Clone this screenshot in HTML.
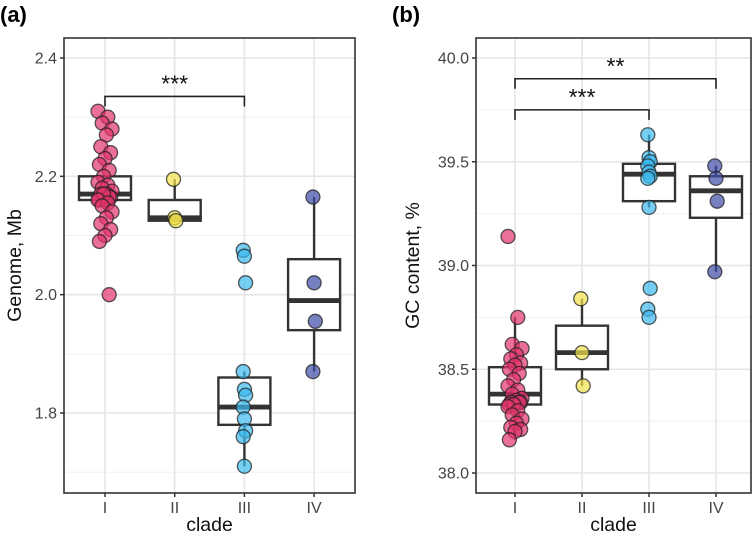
<!DOCTYPE html>
<html><head><meta charset="utf-8"><style>
html,body{margin:0;padding:0;background:#fff;}
svg{display:block;font-family:"Liberation Sans",Arial,sans-serif;}
</style></head><body>
<svg id="chart" width="756" height="541" viewBox="0 0 756 541" xmlns="http://www.w3.org/2000/svg"></svg>
<script>
const categories=["I","II","III","IV"];
const genomeI=[2.31,2.30,2.29,2.28,2.27,2.25,2.24,2.23,2.22,2.21,2.20,2.19,2.185,2.18,2.175,2.17,2.17,2.165,2.16,2.16,2.165,2.17,2.16,2.155,2.15,2.14,2.13,2.12,2.11,2.10,2.09,2.0];
const genomeII=[2.195,2.13,2.125];
const genomeIII=[2.075,2.065,2.02,1.87,1.84,1.83,1.81,1.79,1.77,1.76,1.71];
const genomeIV=[2.165,2.02,1.955,1.87];
const genomeBox=[[2.16,2.17,2.20,2.16,2.20],[2.125,2.13,2.16,2.125,2.195],[1.78,1.81,1.86,1.71,1.87],[1.94,1.99,2.06,1.87,2.165]];
const gcI=[39.14,38.75,38.62,38.6,38.57,38.55,38.53,38.52,38.5,38.48,38.45,38.42,38.4,38.38,38.36,38.35,38.34,38.34,38.33,38.33,38.34,38.33,38.32,38.3,38.28,38.26,38.24,38.22,38.21,38.2,38.16];
const gcII=[38.84,38.58,38.42];
const gcIII=[39.63,39.52,39.5,39.48,39.45,39.43,39.42,39.28,38.89,38.79,38.75];
const gcIV=[39.48,39.42,39.31,38.97];
const gcBox=[[38.33,38.38,38.51,38.16,38.75],[38.5,38.58,38.71,38.42,38.84],[39.31,39.44,39.49,39.28,39.63],[39.23,39.36,39.43,38.97,39.48]];
const genomeTicks=[1.8,2.0,2.2,2.4];
const gcTicks=[38.0,38.5,39.0,39.5,40.0];
const colors=["#e2336b","#f1e34a","#3cb9ee","#3d4aa6"];

const NS="http://www.w3.org/2000/svg";
const svg=document.getElementById("chart");
function el(tag,attrs,parent,text){const e=document.createElementNS(NS,tag);for(const k in attrs)e.setAttribute(k,attrs[k]);if(text!==undefined)e.textContent=text;(parent||svg).appendChild(e);return e;}

function panel(p){
  const g=el("g",{});
  
  
  const y=v=>p.y0+(v-p.v0)*(p.y1-p.y0)/(p.v1-p.v0);
  const x=i=>p.xc0+i*p.step;
  const tk=p.ticks;
  const minor=[];for(let i=0;i<tk.length-1;i++)minor.push((tk[i]+tk[i+1])/2);
  minor.push(tk[0]-(tk[1]-tk[0])/2);
  minor.forEach(v=>{const yy=y(v);if(yy>p.top&&yy<p.bot)el("line",{x1:p.left,x2:p.right,y1:yy,y2:yy,stroke:"#f0f0f0","stroke-width":1},g);});
  tk.forEach(v=>{el("line",{x1:p.left,x2:p.right,y1:y(v),y2:y(v),stroke:"#e6e6e6","stroke-width":1.6},g);});
  categories.forEach((c,i)=>el("line",{x1:x(i),x2:x(i),y1:p.top,y2:p.bot,stroke:"#e6e6e6","stroke-width":1.6},g));
  p.box.forEach((b,i)=>{
    const bx=el("g",{},g);
    
    
    const w=26;
    el("line",{x1:x(i),x2:x(i),y1:y(b[4]),y2:y(b[2]),stroke:"#333","stroke-width":2.4},bx);
    el("line",{x1:x(i),x2:x(i),y1:y(b[0]),y2:y(b[3]),stroke:"#333","stroke-width":2.4},bx);
    el("rect",{x:x(i)-w,y:y(b[2]),width:2*w,height:y(b[0])-y(b[2]),fill:"#fff",stroke:"#333","stroke-width":2.4},bx);
    el("line",{x1:x(i)-w,x2:x(i)+w,y1:y(b[1]),y2:y(b[1]),stroke:"#333","stroke-width":4.8},bx);
  });
  p.series.forEach((s,i)=>{
    s.forEach((v,j)=>{
      const jit=(i==0)?((j*7)%11-5)*1.4:((j%3)-1)*1.2;
      const c=el("circle",{cx:x(i)+jit,cy:y(v),r:7,fill:colors[i],"fill-opacity":0.7,stroke:"#222","stroke-opacity":0.75,"stroke-width":1.3},g);
      
      
    });
  });
  p.brackets.forEach(br=>{
    const bg=el("g",{},g);
    
    
    const yy=y(br.v);
    el("path",{d:`M${x(br.a)},${yy+10}V${yy}H${x(br.b)}V${yy+10}`,fill:"none",stroke:"#222","stroke-width":1.6},bg);
    el("text",{x:(x(br.a)+x(br.b))/2,y:yy-5,"text-anchor":"middle","font-size":23,fill:"#111"},bg,br.t);
  });
  el("rect",{x:p.left,y:p.top,width:p.right-p.left,height:p.bot-p.top,fill:"none",stroke:"#333","stroke-width":1.6},g);
  tk.forEach(v=>{
    el("line",{x1:p.left-4,x2:p.left,y1:y(v),y2:y(v),stroke:"#333","stroke-width":1.5},g);
    const t=el("text",{x:p.left-7,y:y(v)+5.5,"text-anchor":"end","font-size":16,fill:"#444"},g,v.toFixed(1));
    
    
  });
  categories.forEach((c,i)=>{
    el("line",{x1:x(i),x2:x(i),y1:p.bot,y2:p.bot+4,stroke:"#333","stroke-width":1.5},g);
    const t=el("text",{x:x(i),y:p.bot+20,"text-anchor":"middle","font-size":16,fill:"#444"},g,c);
    
    
  });
  const xt=el("text",{x:(p.left+p.right)/2,y:531,"text-anchor":"middle","font-size":19.5,fill:"#111"},g,"clade");
  
  
  const cy=(p.top+p.bot)/2;
  const yt=el("text",{x:p.ytx,y:cy,"text-anchor":"middle","font-size":19.5,fill:"#111",transform:`rotate(-90 ${p.ytx} ${cy})`},g,p.ytitle);
  
  
  const pl=el("text",{x:p.labx,y:22,"font-size":22,"font-weight":"bold",fill:"#000"},g,p.label);
  
  
}

panel({name:"panel-a-genome",left:64,right:355,top:38,bot:493,xc0:105,step:69.7,y0:413,y1:58,v0:1.8,v1:2.4,
  ticks:genomeTicks,box:genomeBox,series:[genomeI,genomeII,genomeIII,genomeIV],
  brackets:[{a:0,b:2,v:2.335,t:"***"}],ytitle:"Genome, Mb",ytx:21,label:"(a)",labx:0});
panel({name:"panel-b-gc",left:476,right:751,top:38,bot:493,xc0:515,step:67,y0:473,y1:58,v0:38.0,v1:40.0,
  ticks:gcTicks,box:gcBox,series:[gcI,gcII,gcIII,gcIV],
  brackets:[{a:0,b:3,v:39.9,t:"**"},{a:0,b:2,v:39.75,t:"***"}],ytitle:"GC content, %",ytx:419,label:"(b)",labx:392});
</script>
</body></html>
